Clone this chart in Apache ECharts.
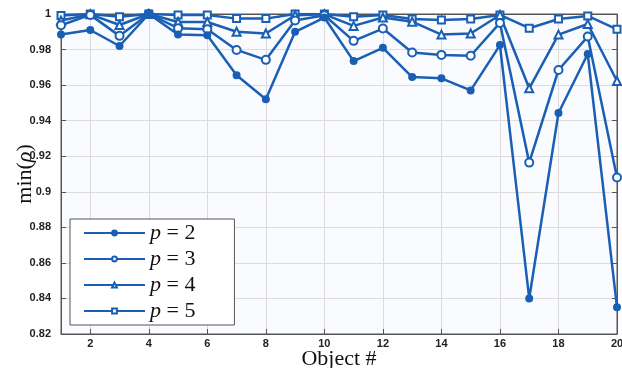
<!DOCTYPE html>
<html>
<head>
<meta charset="utf-8">
<script src="https://cdn.jsdelivr.net/npm/echarts@6/dist/echarts.min.js"></script>
<style>
html,body{margin:0;padding:0;background:#fff;}
#c{width:622px;height:368px;}
</style>
</head>
<body>
<div id="c"></div>
<script>
const objects = [1,2,3,4,5,6,7,8,9,10,11,12,13,14,15,16,17,18,19,20];
const yTicks = [0.82,0.84,0.86,0.88,0.9,0.92,0.94,0.96,0.98,1];
const seriesNames = ['2','3','4','5'];
const p2 = [0.9885,0.991,0.982,1.0,0.9885,0.988,0.9655,0.952,0.990,0.998,0.9735,0.981,0.9645,0.9638,0.957,0.9825,0.840,0.9443,0.9775,0.835];
const p3 = [0.9937,0.9995,0.9877,1.0,0.992,0.9914,0.9798,0.9742,0.9963,0.9993,0.9849,0.9918,0.9783,0.977,0.9765,0.995,0.9164,0.9685,0.9873,0.908];
const p4 = [0.9963,0.9998,0.9938,1.0,0.9955,0.9955,0.990,0.989,0.9993,0.9998,0.9933,0.998,0.9957,0.9884,0.989,0.9994,0.9582,0.9884,0.9944,0.9623];
const p5 = [0.9992,1.0,0.9985,1.0,0.9994,0.9994,0.9974,0.9974,1.0,1.0,0.9985,0.9995,0.9972,0.9966,0.9972,0.9995,0.992,0.9972,0.9989,0.9914];

const blue = '#1a5fb4';
const serif = '"Liberation Serif", "DejaVu Serif", serif';
const sans = '"Liberation Sans Narrow", "Liberation Sans", Arial, sans-serif';
const symbols = ['circle','emptyCircle','emptyTriangle','emptyRect'];
const sizes = [6,8,8,7];
const data = [p2,p3,p4,p5];

const chart = echarts.init(document.getElementById('c'), null, {renderer:'canvas'});
const evenIdx = (i) => (i % 2) === 1;

const series = data.map((d,k) => ({
  name: 'p' + seriesNames[k],
  type: 'line',
  data: d,
  symbol: symbols[k],
  symbolSize: sizes[k],
  showAllSymbol: true,
  lineStyle: {color: blue, width: 2.5},
  itemStyle: {color: blue, borderColor: blue, borderWidth: 2},
  emphasis: {disabled: true},
  z: 10 - k
}));

chart.setOption({
  animation: false,
  backgroundColor: '#ffffff',
  grid: {left: 61, right: 5, top: 14, bottom: 34, outerBoundsMode: 'none', containLabel: false,
    show: true, backgroundColor: '#fafbfe', borderColor: '#555', borderWidth: 1},
  legend: {
    orient: 'vertical',
    left: 70, top: 219,
    itemWidth: 61, itemHeight: 6,
    itemGap: 4,
    padding: [3, 39, 3, 13],
    backgroundColor: '#ffffff',
    borderColor: '#555', borderWidth: 1,
    data: series.map(s => s.name),
    formatter: (n) => '{i|p}{r| = ' + n.slice(1) + '}',
    textStyle: {
      lineHeight: 22,
      rich: {
        i: {fontFamily: serif, fontStyle: 'italic', fontSize: 22, color: '#111', lineHeight: 22},
        r: {fontFamily: serif, fontSize: 22, color: '#111', lineHeight: 22}
      }
    }
  },
  xAxis: [{
    type: 'category',
    data: objects.map(String),
    boundaryGap: false,
    name: 'Object #',
    nameLocation: 'middle',
    nameGap: 14,
    nameMoveOverlap: false,
    nameTextStyle: {fontFamily: serif, fontSize: 22, color: '#111'},
    axisLine: {lineStyle: {color: '#555', width: 1}},
    axisTick: {show: true, inside: true, length: 5, interval: evenIdx, lineStyle: {color: '#555'}},
    axisLabel: {interval: evenIdx, fontFamily: sans, fontWeight: 'bold', fontSize: 11, color: '#222', margin: 4, hideOverlap: false},
    splitLine: {show: true, interval: evenIdx, lineStyle: {color: '#dcdcdc', width: 1}}
  },{
    type: 'category',
    data: objects.map(String),
    boundaryGap: false,
    position: 'top',
    axisLine: {lineStyle: {color: '#555', width: 1}},
    axisTick: {show: true, inside: true, length: 5, interval: evenIdx, lineStyle: {color: '#555'}},
    axisLabel: {show: false},
    splitLine: {show: false}
  }],
  yAxis: [{
    type: 'value',
    min: yTicks[0], max: yTicks[yTicks.length-1], interval: 0.02,
    name: '{a|min(}{i|ρ}{a|)}',
    nameLocation: 'middle',
    nameGap: 25,
    nameMoveOverlap: false,
    nameRotate: 90,
    nameTextStyle: {
      rich: {
        a: {fontFamily: serif, fontSize: 22, color: '#111'},
        i: {fontFamily: serif, fontStyle: 'italic', fontSize: 22, color: '#111'}
      }
    },
    axisLine: {show: true, lineStyle: {color: '#555', width: 1}},
    axisTick: {show: true, inside: true, length: 5, lineStyle: {color: '#555'}},
    axisLabel: {fontFamily: sans, fontWeight: 'bold', fontSize: 11, color: '#222', margin: 10,
      formatter: v => (Math.abs(v-1) < 1e-9 ? '1' : v.toFixed(2).replace(/0$/, '').replace(/\.$/, '') )},
    splitLine: {show: true, lineStyle: {color: '#dcdcdc', width: 1}}
  },{
    type: 'value',
    min: yTicks[0], max: yTicks[yTicks.length-1], interval: 0.02,
    position: 'right',
    axisLine: {show: true, lineStyle: {color: '#555', width: 1}},
    axisTick: {show: true, inside: true, length: 5, lineStyle: {color: '#555'}},
    axisLabel: {show: false},
    splitLine: {show: false}
  }],
  series: series
});
</script>
</body>
</html>
